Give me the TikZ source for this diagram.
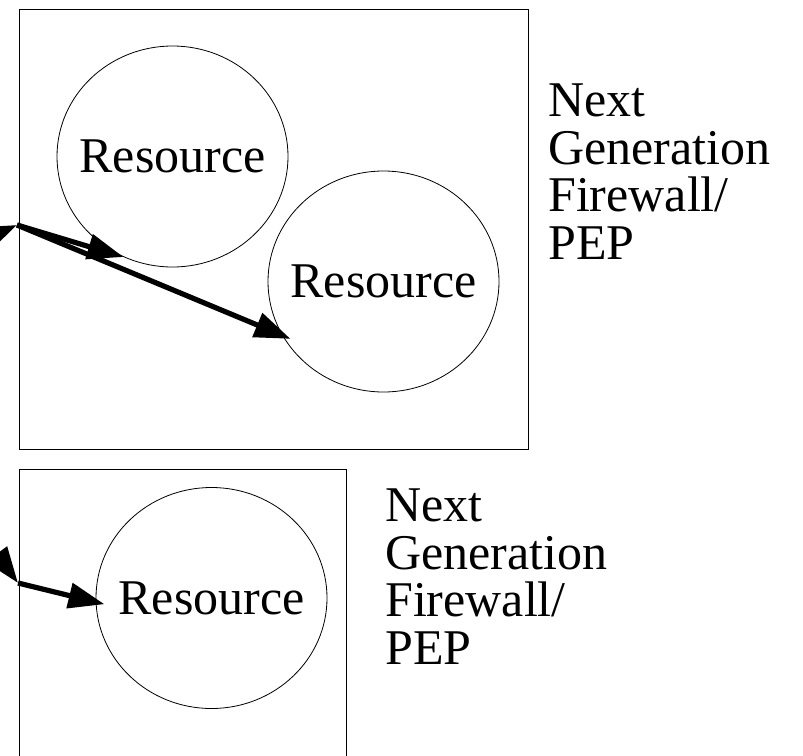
\documentclass[tikz,border=0pt]{standalone}
\usepackage{fontspec}
\setmainfont{Liberation Serif}
\usepackage{tikz}
\usetikzlibrary{shapes,arrows,arrows.meta}
\usetikzlibrary{calc}
\tikzset{
    res/.style={draw, ellipse, line width=0.8pt, inner sep=0pt, minimum width=231pt, minimum height=221pt, font=\fontsize{50}{50}\selectfont},
    fw/.style={draw, rectangle, line width=1.2pt, inner sep=0pt, anchor=north west},
    fwtext/.style={anchor=north west, inner sep=0pt, align=left, font=\fontsize{50}{47.5}\selectfont},
    flow/.style={line width=5.2pt, -{Triangle[length=36pt,width=25pt]}}}
\begin{document}
\begin{tikzpicture}[x=1pt,y=-1pt]
\useasboundingbox (0,0) rectangle (803,755);
% upper firewall with two resources
\node[fw, minimum width=509pt, minimum height=440pt] (fwA) at (19,9) {};
\node[res] (resA) at (172.5,156.5) {\makebox[0pt]{Resource}};
\node[res] (resB) at (383.5,281.5) {\makebox[0pt]{Resource}};
\node[fwtext] (ngfwA) at (548,84) {Next\\Generation\\Firewall/\\PEP};
\coordinate (pepA) at (17,225);
\coordinate (inA) at (-80,268);
\draw [flow] (inA) -- (pepA);
\draw [flow] (pepA) -- (resA.244);
\draw [flow, shorten >=-9pt] (pepA) -- (resB.208);
% lower firewall, one resource
\node[fw, minimum width=327pt, minimum height=300pt] (fwB) at (19,469) {};
\node[res] (resC) at (211.5,598) {\makebox[0pt]{Resource}};
\node[fwtext] (ngfwB) at (385,489) {Next\\Generation\\Firewall/\\PEP};
\coordinate (pepB) at (18,583);
\coordinate (inB) at (-40,505);
\draw [flow] (inB) -- (pepB);
\draw [flow, shorten >=-9pt] (pepB) -- (resC.182);
\end{tikzpicture}
\end{document}
